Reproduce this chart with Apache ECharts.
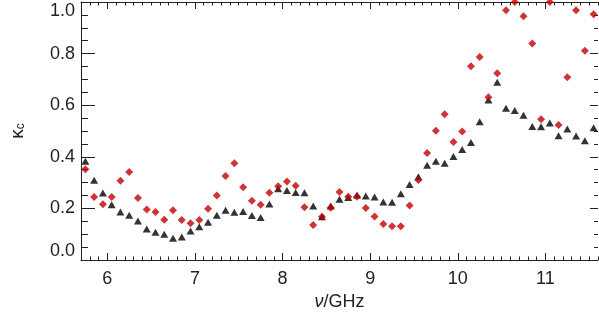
<!DOCTYPE html>
<html>
<head>
<meta charset="utf-8">
<script src="https://cdn.jsdelivr.net/npm/echarts@6/dist/echarts.min.js"></script>
<style>
    html, body {margin: 0; padding: 0; background: #fff;}
    #chart {width: 599px; height: 322px;}
</style>
</head>
<body>
<div id="chart"></div>
<script>
// frequencies (GHz)
const freq = [5.75, 5.85, 5.95, 6.05, 6.15, 6.25, 6.35, 6.45, 6.55, 6.65,
    6.75, 6.85, 6.95, 7.05, 7.15, 7.25, 7.35, 7.45, 7.55, 7.65,
    7.75, 7.85, 7.95, 8.05, 8.15, 8.25, 8.35, 8.45, 8.55, 8.65,
    8.75, 8.85, 8.95, 9.05, 9.15, 9.25, 9.35, 9.45, 9.55, 9.65,
    9.75, 9.85, 9.95, 10.05, 10.15, 10.25, 10.35, 10.45, 10.55, 10.65,
    10.75, 10.85, 10.95, 11.05, 11.15, 11.25, 11.35, 11.45, 11.55];
// black triangles
const kappaBlack = [0.383, 0.309, 0.260, 0.214, 0.186, 0.173, 0.151, 0.120, 0.108, 0.100,
    0.084, 0.089, 0.112, 0.129, 0.146, 0.173, 0.193, 0.185, 0.188, 0.172,
    0.165, 0.217, 0.276, 0.269, 0.262, 0.261, 0.209, 0.168, 0.209, 0.235,
    0.242, 0.252, 0.248, 0.244, 0.225, 0.224, 0.257, 0.293, 0.323, 0.367,
    0.383, 0.375, 0.401, 0.428, 0.455, 0.536, 0.620, 0.689, 0.588, 0.579,
    0.561, 0.517, 0.516, 0.531, 0.482, 0.508, 0.481, 0.462, 0.513];
// red diamonds
const kappaRed = [0.352, 0.244, 0.216, 0.244, 0.307, 0.341, 0.240, 0.196, 0.186, 0.156,
    0.193, 0.155, 0.142, 0.155, 0.199, 0.250, 0.326, 0.375, 0.282, 0.230,
    0.214, 0.261, 0.286, 0.304, 0.288, 0.204, 0.136, 0.168, 0.203, 0.264,
    0.245, 0.245, 0.202, 0.169, 0.140, 0.131, 0.131, 0.211, 0.310, 0.415,
    0.501, 0.565, 0.457, 0.498, 0.751, 0.787, 0.631, 0.724, 0.968, 1.000,
    0.945, 0.839, 0.546, 1.000, 0.523, 0.708, 0.968, 0.811, 0.953];
const xTicks = [6, 7, 8, 9, 10, 11];
const yTicks = [0.0, 0.2, 0.4, 0.6, 0.8, 1.0];

const xMin = 5.7, xMax = 11.6;
const xMinor = [];
for (let i = 57; i <= 116; i++) {
    if (i % 10 !== 0) xMinor.push(i / 10);
}

const font = 'Liberation Sans';
const ink = '#222';

const chart = echarts.init(document.getElementById('chart'), null, {renderer: 'canvas'});

const xAxisBase = (pos, ticks, len, extra) => Object.assign({
    type: 'value',
    position: pos,
    min: xMin,
    max: xMax,
    axisLine: {show: false, onZero: false},
    axisTick: {show: true, inside: true, length: len, customValues: ticks, lineStyle: {color: ink, width: 1}},
    axisLabel: {show: false},
    splitLine: {show: false},
}, extra);

const yAxisBase = (pos, len, minorLen, extra) => Object.assign({
    type: 'value',
    position: pos,
    min: yTicks[0],
    max: yTicks[yTicks.length - 1],
    interval: 0.2,
    axisLine: {show: false, onZero: false},
    axisTick: {show: true, inside: true, length: len, lineStyle: {color: ink, width: 1}},
    minorTick: {show: true, splitNumber: 4, length: minorLen, lineStyle: {color: ink, width: 1}},
    axisLabel: {show: false},
    splitLine: {show: false},
}, extra);

chart.setOption({
    animation: false,
    backgroundColor: '#fff',
    textStyle: {fontFamily: font, color: ink},
    grid: {left: 81, right: 1, top: 2, bottom: 62, containLabel: false},
    xAxis: [
        xAxisBase('bottom', xTicks, 7, {
            axisLine: {show: true, onZero: false, lineStyle: {color: ink, width: 1}},
            axisLabel: {
                show: true, customValues: xTicks, margin: 10,
                fontSize: 18, fontFamily: font, color: ink
            },
            name: '{i|ν}/GHz',
            nameLocation: 'middle',
            nameGap: 33,
            nameTextStyle: {
                fontSize: 18, fontFamily: font, color: ink,
                rich: {i: {fontSize: 18, fontFamily: font, fontStyle: 'italic', color: ink}}
            }
        }),
        xAxisBase('bottom', xMinor, 3.5),
        xAxisBase('top', xTicks, 7, {
            axisLine: {show: true, onZero: false, lineStyle: {color: ink, width: 1}}
        }),
        xAxisBase('top', xMinor, 3.5)
    ],
    yAxis: [
        yAxisBase('left', 14, 7, {
            axisLine: {show: true, onZero: false, lineStyle: {color: ink, width: 1}},
            axisLabel: {
                show: true, margin: 6, fontSize: 18, fontFamily: font, color: ink,
                formatter: v => v.toFixed(1),
                verticalAlignMinLabel: 'bottom',
                verticalAlignMaxLabel: 'top'
            },
            name: '{k|κ}{s|c}',
            nameLocation: 'middle',
            nameGap: 54,
            nameRotate: 90,
            nameTextStyle: {
                rich: {
                    k: {fontSize: 19, fontFamily: font, color: ink, lineHeight: 20, verticalAlign: 'bottom'},
                    s: {fontSize: 12, fontFamily: font, color: ink, lineHeight: 14, verticalAlign: 'bottom', padding: [6, 0, 0, 0]}
                }
            }
        }),
        yAxisBase('right', 8, 4)
    ],
    series: [
        {
            name: 'black',
            type: 'scatter',
            xAxisIndex: 0,
            yAxisIndex: 0,
            symbol: 'triangle',
            symbolSize: [8, 7],
            itemStyle: {color: '#000'},
            data: freq.map((f, i) => [f, kappaBlack[i]]),
            z: 2
        },
        {
            name: 'red',
            type: 'scatter',
            xAxisIndex: 0,
            yAxisIndex: 0,
            symbol: 'diamond',
            symbolSize: [8, 8],
            itemStyle: {color: '#c40000'},
            data: freq.map((f, i) => [f, kappaRed[i]]),
            z: 3
        }
    ]
});
</script>
</body>
</html>
